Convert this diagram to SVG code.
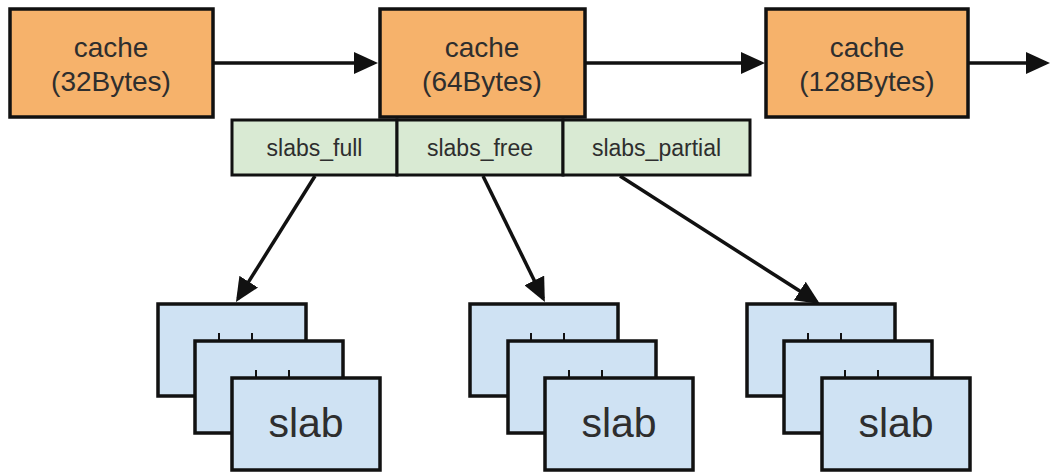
<svg xmlns="http://www.w3.org/2000/svg" width="1053" height="473" viewBox="0 0 1053 473">
<style>
.cache{fill:#f6b26b;stroke:#111;stroke-width:3.5}
.list{fill:#d9ead3;stroke:#111;stroke-width:3}
.slab{fill:#cfe2f3;stroke:#111;stroke-width:3.5}
.tick{stroke:#111;stroke-width:2}
.t{font-family:"Liberation Sans",Arial,sans-serif;fill:#2e2e2e;text-anchor:middle}
.ct{font-size:28px}
.lt{font-size:23px}
.st{font-size:41px}
.edge{stroke:#111;stroke-width:3.5;fill:none;marker-end:url(#ah)}
</style>
<defs>
<marker id="ah" markerUnits="userSpaceOnUse" markerWidth="24" markerHeight="22" refX="20" refY="11" orient="auto">
<path d="M0,0 L24,11 L0,22 z" fill="#111"/>
</marker>
</defs>
<rect width="1053" height="473" fill="#fff"/>
<g id="cache32">
<rect class="cache" x="10" y="9" width="203" height="108"/>
<text class="t ct" x="111" y="57">cache</text>
<text class="t ct" x="111" y="91">(32Bytes)</text>
</g>
<g id="cache64">
<rect class="cache" x="380" y="9" width="205" height="108"/>
<text class="t ct" x="482" y="57">cache</text>
<text class="t ct" x="482" y="91">(64Bytes)</text>
</g>
<g id="cache128">
<rect class="cache" x="766" y="9" width="202" height="108"/>
<text class="t ct" x="867" y="57">cache</text>
<text class="t ct" x="867" y="91">(128Bytes)</text>
</g>
<g id="slabs_full">
<rect class="list" x="232" y="120" width="165" height="55"/>
<text class="t lt" x="314.5" y="156">slabs_full</text>
</g>
<g id="slabs_free">
<rect class="list" x="397" y="120" width="166" height="55"/>
<text class="t lt" x="480" y="156">slabs_free</text>
</g>
<g id="slabs_partial">
<rect class="list" x="563" y="120" width="187" height="55"/>
<text class="t lt" x="656.5" y="156">slabs_partial</text>
</g>
<g id="stack_full">
<rect class="slab" x="158" y="304" width="148" height="92"/>
<line class="tick" x1="219" y1="333" x2="219" y2="341"/>
<line class="tick" x1="252" y1="333" x2="252" y2="341"/>
<rect class="slab" x="195" y="341" width="148" height="92"/>
<line class="tick" x1="256" y1="370" x2="256" y2="378"/>
<line class="tick" x1="289" y1="370" x2="289" y2="378"/>
<rect class="slab" x="232" y="378" width="148" height="92"/>
<text class="t st" x="306" y="437">slab</text>
</g>
<g id="stack_free">
<rect class="slab" x="470" y="304" width="148" height="92"/>
<line class="tick" x1="531" y1="333" x2="531" y2="341"/>
<line class="tick" x1="564" y1="333" x2="564" y2="341"/>
<rect class="slab" x="508" y="341" width="148" height="92"/>
<line class="tick" x1="569" y1="370" x2="569" y2="378"/>
<line class="tick" x1="602" y1="370" x2="602" y2="378"/>
<rect class="slab" x="545" y="378" width="148" height="92"/>
<text class="t st" x="619" y="437">slab</text>
</g>
<g id="stack_partial">
<rect class="slab" x="747" y="304" width="148" height="92"/>
<line class="tick" x1="808" y1="333" x2="808" y2="341"/>
<line class="tick" x1="841" y1="333" x2="841" y2="341"/>
<rect class="slab" x="784" y="341" width="148" height="92"/>
<line class="tick" x1="845" y1="370" x2="845" y2="378"/>
<line class="tick" x1="878" y1="370" x2="878" y2="378"/>
<rect class="slab" x="822" y="378" width="148" height="92"/>
<text class="t st" x="896" y="437">slab</text>
</g>
<g id="connectors">
<line class="edge" x1="214" y1="63" x2="374" y2="63"/>
<line class="edge" x1="586" y1="63" x2="761" y2="63"/>
<line class="edge" x1="969" y1="63" x2="1046" y2="63"/>
<line class="edge" x1="315" y1="176" x2="238.1" y2="298.6"/>
<line class="edge" x1="483" y1="176" x2="543.1" y2="298.4"/>
<line class="edge" x1="620" y1="176" x2="816.6" y2="301.8"/>
</g>
</svg>
